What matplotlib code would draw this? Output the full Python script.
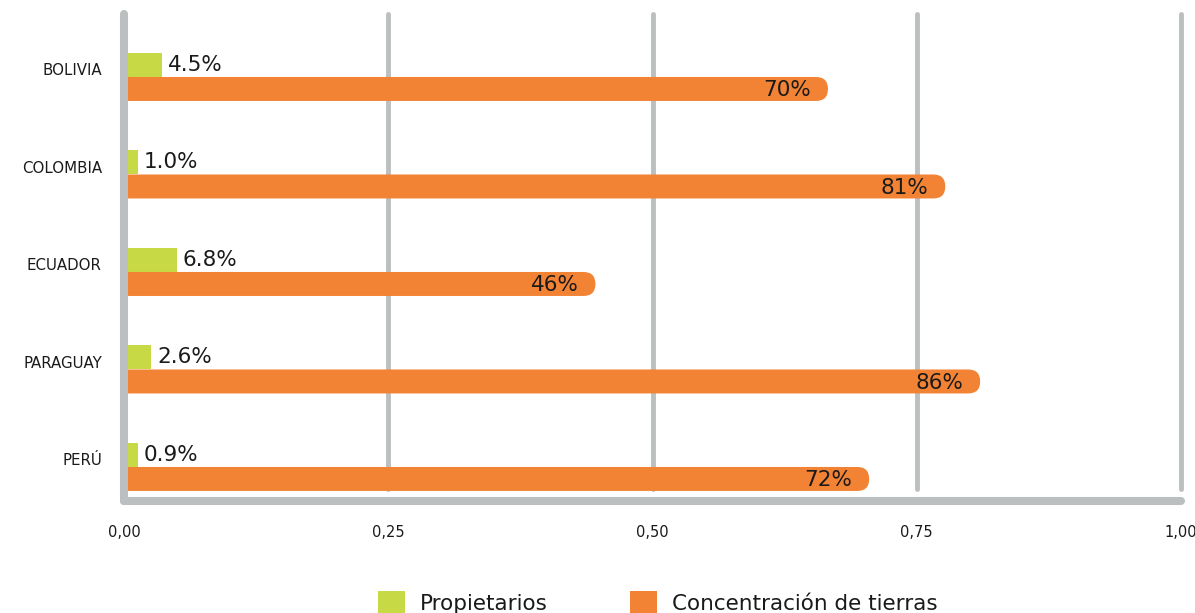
import matplotlib
matplotlib.use('Agg')
import matplotlib.pyplot as plt
from matplotlib.patches import FancyBboxPatch, Patch
from matplotlib.patches import BoxStyle

plt.rcParams['font.family'] = ['DejaVu Sans']

# datos
paises = ['BOLIVIA', 'COLOMBIA', 'ECUADOR', 'PARAGUAY', 'PERÚ']
propietarios = [0.036, 0.013, 0.050, 0.026, 0.013]
propietarios_txt = ['4.5%', '1.0%', '6.8%', '2.6%', '0.9%']
concentracion = [0.666, 0.777, 0.446, 0.810, 0.705]
concentracion_txt = ['70%', '81%', '46%', '86%', '72%']
ticks = [0.0, 0.25, 0.50, 0.75, 1.0]
tick_labels = ['0,00', '0,25', '0,50', '0,75', '1,00']

verde = '#c8d946'
naranja = '#f28334'
gris = '#bcbfbf'
texto = '#1a1a1a'

W, H = 1195, 613
fig = plt.figure(figsize=(W / 100, H / 100), dpi=100)
ax = fig.add_axes([124 / W, 1 - 501 / H, 1057 / W, 487 / H])

ylim = (4.349, -0.646)
ax.set_xlim(0, 1)
ax.set_ylim(*ylim)
h = 0.246

y = list(range(len(paises)))

# barras verdes (propietarios)
ax.barh([v - h / 2 for v in y], propietarios, height=h, color=verde, zorder=1)

# barras naranjas con punta redondeada
bbox = ax.get_position()
w_px = bbox.width * W
h_px = bbox.height * H
aspect = (ylim[0] - ylim[1]) * w_px / h_px
radio = (h / aspect) / 2
for yi, val in zip(y, concentracion):
    p = FancyBboxPatch((-0.05, yi), val + 0.05, h,
                       boxstyle=BoxStyle.Round(pad=0, rounding_size=radio),
                       mutation_aspect=aspect, facecolor=naranja,
                       edgecolor='none', zorder=1)
    ax.add_patch(p)

# etiquetas de valores
for yi, val, t in zip(y, propietarios, propietarios_txt):
    ax.annotate(t, (val, yi - h / 2), xytext=(4, 0), textcoords='offset points',
                ha='left', va='center', fontsize=15.5, color=texto)
for yi, val, t in zip(y, concentracion, concentracion_txt):
    ax.annotate(t, (val, yi + h / 2), xytext=(-12, -1), textcoords='offset points',
                ha='right', va='center', fontsize=15.5, color=texto)

# lineas de la grilla
for t in ticks[1:]:
    ax.axvline(t, ymin=0.025, ymax=1, color=gris, lw=3.5,
               solid_capstyle='round', clip_on=False, zorder=0)

for s in ['top', 'right']:
    ax.spines[s].set_visible(False)
for s in ['left', 'bottom']:
    ax.spines[s].set_color(gris)
    ax.spines[s].set_linewidth(5.8)
    ax.spines[s].set_capstyle('round')
    ax.spines[s].set_zorder(3)

ax.set_xticks(ticks)
ax.set_xticklabels(tick_labels, fontsize=10.5, color=texto)
ax.set_yticks([v - 0.08 for v in y])
ax.set_yticklabels(paises, fontsize=10.8, color=texto)
ax.tick_params(axis='both', length=0)
ax.tick_params(axis='x', pad=17)
ax.tick_params(axis='y', pad=16)

handles = [Patch(facecolor=verde, label='Propietarios'),
           Patch(facecolor=naranja, label='Concentración de tierras')]
ax.legend(handles=handles, loc='center', bbox_to_anchor=(0.505, -0.208),
          ncol=2, frameon=False, fontsize=15.5, handlelength=1.25,
          handleheight=1.25, handletextpad=0.7, columnspacing=3.8,
          labelcolor=texto)

fig.savefig('out.png', dpi=100)
